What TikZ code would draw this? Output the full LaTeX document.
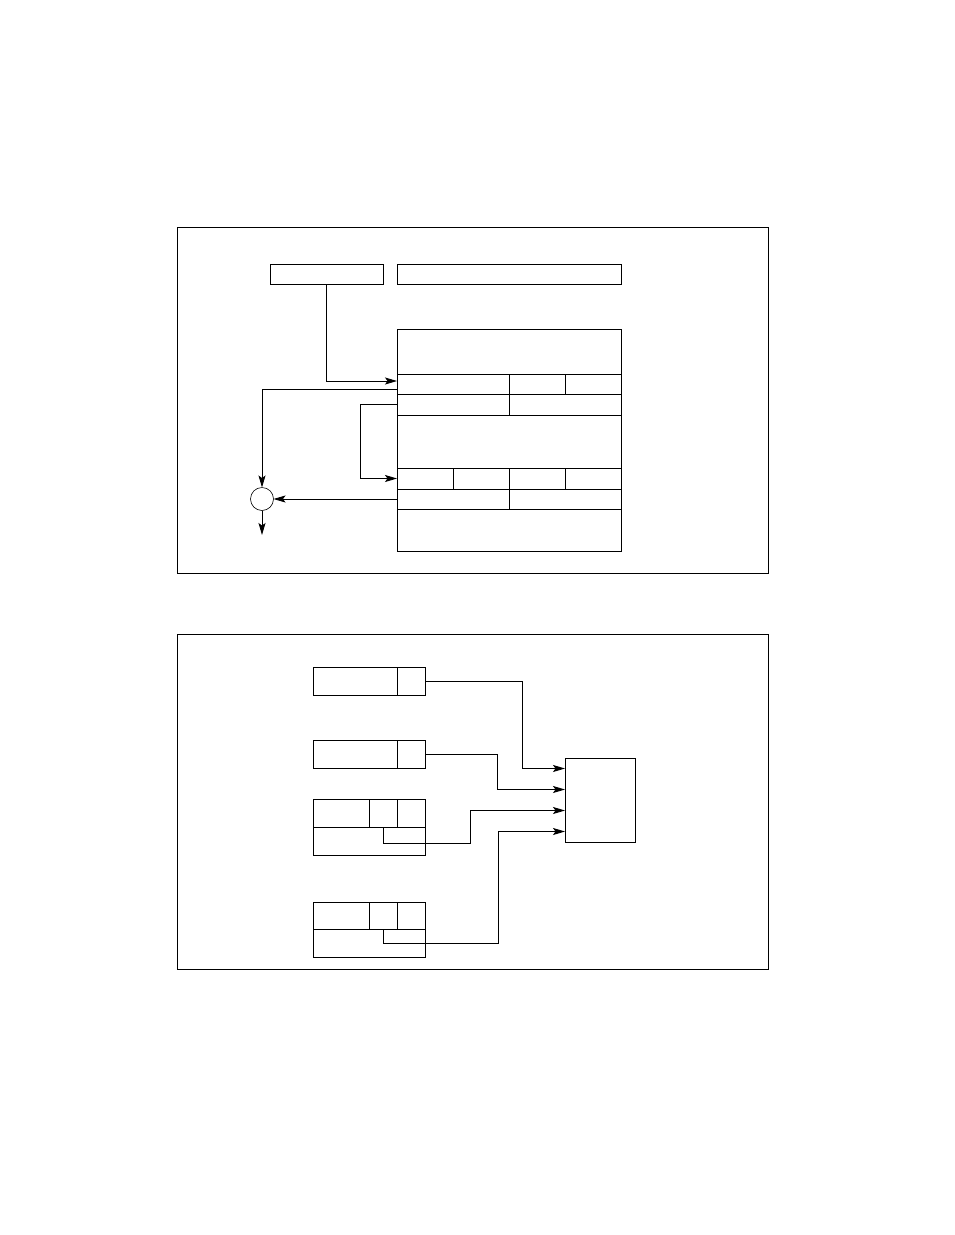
\documentclass[tikz,border=0pt]{standalone}
\usepackage{tikz}
\usetikzlibrary{arrows.meta, positioning, calc}

\begin{document}
\begin{tikzpicture}[
    x=1pt, y=-1pt,
    line width=0.9pt,
    >={Stealth[length=12pt,width=7pt,inset=2.5pt]},
    panelbox/.style={
      draw, line width=0.9pt,
      anchor=north west, inner sep=0pt, outer sep=0pt,
    },
    cellbox/.style 2 args={
      draw, line width=0.9pt,
      anchor=north west, inner sep=0pt, outer sep=0pt,
      minimum width=#1pt, minimum height=#2pt,
    },
    sumnode/.style={
      draw, circle, line width=0.6pt,
      minimum size=23pt, inner sep=0pt, outer sep=0pt,
    },
    flowarrow/.style={->, line width=0.9pt},
  ]

  \useasboundingbox (0,0) rectangle (954,1235);

  % -----------------------------------------------------------
  % Panels
  % -----------------------------------------------------------
  \node[panelbox, minimum width=591pt, minimum height=346pt]
        (toppanel) at (177,227) {};
  \node[panelbox, minimum width=591pt, minimum height=335pt]
        (botpanel) at (177,634) {};

  % -----------------------------------------------------------
  % Upper panel: source boxes and the table
  % -----------------------------------------------------------
  \node[cellbox={113}{20}] (srcA) at (270,264) {};
  \node[cellbox={224}{20}] (srcB) at (397,264) {};

  \node[cellbox={224}{45}] (tHead) at (397,329) {};
  \node[cellbox={112}{20}] (rA1)   at (397,374) {};
  \node[cellbox={56}{20}]  (rA2)   at (509,374) {};
  \node[cellbox={56}{20}]  (rA3)   at (565,374) {};
  \node[cellbox={112}{21}] (rB1)   at (397,394) {};
  \node[cellbox={112}{21}] (rB2)   at (509,394) {};
  \node[cellbox={224}{53}] (tMid)  at (397,415) {};
  \foreach \i/\x in {1/397, 2/453, 3/509, 4/565}
    \node[cellbox={56}{21}] (rD\i) at (\x,468) {};
  \node[cellbox={112}{20}] (rE1)   at (397,489) {};
  \node[cellbox={112}{20}] (rE2)   at (509,489) {};
  \node[cellbox={224}{42}] (tFoot) at (397,509) {};

  \node[sumnode] (sum) at (262,499) {};
  \coordinate (sumout) at (262,535);

  % Connectors of the upper panel
  \draw[flowarrow] (srcA.south) |- ([yshift=3pt]rA1.west);
  \draw[flowarrow] ([yshift=-5pt]rA1.west) -| (sum.north);
  \draw[flowarrow] (rB1.west) -- ++(-37,0) |- (rD1.west);
  \draw[flowarrow] (rE1.west) -- (sum.east);
  \draw[flowarrow] (sum.south) -- (sumout);

  % -----------------------------------------------------------
  % Lower panel: four records feeding one box
  % -----------------------------------------------------------
  \node[cellbox={84}{28}] (b1body) at (313,667) {};
  \node[cellbox={28}{28}] (b1tag)  at (397,667) {};

  \node[cellbox={84}{28}] (b2body) at (313,740) {};
  \node[cellbox={28}{28}] (b2tag)  at (397,740) {};

  \node[cellbox={56}{28}]  (b3body) at (313,799) {};
  \node[cellbox={28}{28}]  (b3mid)  at (369,799) {};
  \node[cellbox={28}{28}]  (b3tag)  at (397,799) {};
  \node[cellbox={112}{28}] (b3low)  at (313,827) {};

  \node[cellbox={56}{27}]  (b4body) at (313,902) {};
  \node[cellbox={28}{27}]  (b4mid)  at (369,902) {};
  \node[cellbox={28}{27}]  (b4tag)  at (397,902) {};
  \node[cellbox={112}{28}] (b4low)  at (313,929) {};

  \node[cellbox={70}{84}] (target) at (565,758) {};

  \coordinate (in1) at ([yshift=31.5pt]target.west);
  \coordinate (in2) at ([yshift=10.5pt]target.west);
  \coordinate (in3) at ([yshift=-10.5pt]target.west);
  \coordinate (in4) at ([yshift=-31.5pt]target.west);

  % Connectors of the lower panel
  \draw[flowarrow] (b1tag.east) -| ([xshift=-43pt]in1) -- (in1);
  \draw[flowarrow] (b2tag.east) -| ([xshift=-68pt]in2) -- (in2);
  \draw[flowarrow] (b3mid.south) -- ++(0,16) -| ([xshift=-95pt]in3) -- (in3);
  \draw[flowarrow] (b4mid.south) -- ++(0,14) -| ([xshift=-67pt]in4) -- (in4);

\end{tikzpicture}
\end{document}
